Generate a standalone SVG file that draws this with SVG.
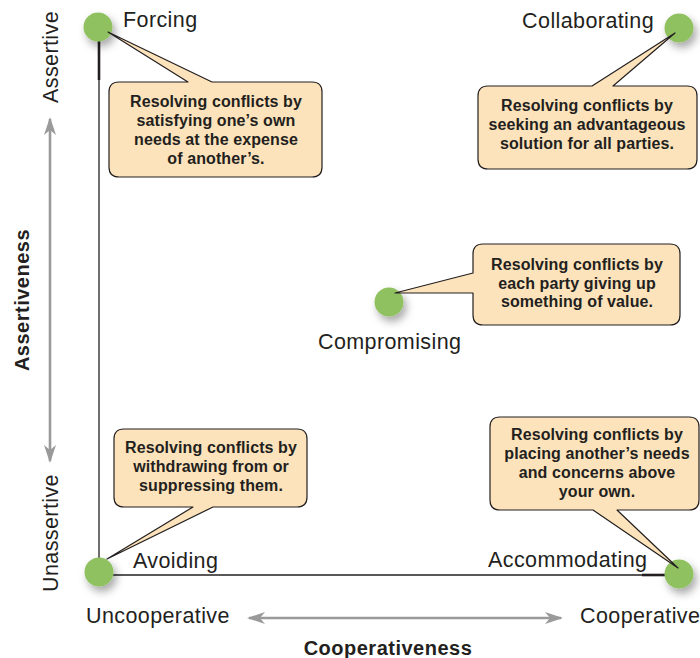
<svg xmlns="http://www.w3.org/2000/svg" width="700" height="658" viewBox="0 0 700 658">
<defs>
<style>
.lbl{font-family:"Liberation Sans",Arial,sans-serif;font-size:21.5px;letter-spacing:0.4px;fill:#231f20}
.ttl{font-family:"Liberation Sans",Arial,sans-serif;font-size:20px;font-weight:bold;letter-spacing:0.5px;fill:#231f20}
.bt{font-family:"Liberation Sans",Arial,sans-serif;font-size:16px;font-weight:bold;letter-spacing:0.1px;fill:#231f20;text-anchor:middle}
.box{fill:#fde3bb;stroke:#231f20;stroke-width:1.2;stroke-linejoin:round}
.dot{fill:#8fc160;filter:url(#sh)}
.axis{stroke:#231f20;stroke-width:1.3;fill:none}
.thick{stroke:#231f20;stroke-width:2.6;fill:none}
.garr{stroke:#9a9a9a;stroke-width:2.6;fill:none;marker-end:url(#ah);marker-start:url(#ah)}
</style>
<filter id="sh" x="-80%" y="-80%" width="260%" height="260%">
<feDropShadow dx="3" dy="5" stdDeviation="4" flood-color="#000" flood-opacity="0.35"/>
</filter>
<marker id="ah" viewBox="-1 -7 20 14" refX="16" refY="0" markerWidth="20" markerHeight="14" markerUnits="userSpaceOnUse" orient="auto-start-reverse">
<path d="M0,-6 L18,0 L0,6 L5,0 Z" fill="#9a9a9a"/>
</marker>
</defs>
<rect width="700" height="658" fill="#ffffff"/>
<g id="connectors">
<line class="axis" x1="99" y1="40" x2="99" y2="572"/>
<line class="thick" x1="99" y1="40" x2="99" y2="80"/>
<line class="axis" x1="99" y1="575" x2="666" y2="575"/>
<line class="thick" x1="642" y1="575" x2="666" y2="575"/>
<line class="garr" x1="50" y1="119" x2="50" y2="461"/>
<line class="garr" x1="249" y1="618" x2="561" y2="618"/>
</g>
<g id="axis-labels">
<text class="lbl" text-anchor="middle" transform="translate(58,57) rotate(-90)">Assertive</text>
<text class="lbl" text-anchor="middle" transform="translate(58,533) rotate(-90)">Unassertive</text>
<text class="ttl" text-anchor="middle" transform="translate(29,300) rotate(-90)">Assertiveness</text>
<text class="lbl" x="86" y="623">Uncooperative</text>
<text class="lbl" x="580" y="623">Cooperative</text>
<text class="ttl" x="388" y="655" text-anchor="middle">Cooperativeness</text>
</g>
<g id="forcing">
<circle class="dot" cx="98" cy="27" r="14.5"/>
<text class="lbl" x="123" y="27">Forcing</text>
<path class="box" d="M119,82 L188,82 L108,32 L212,82 L312,82 Q322,82 322,92 L322,167 Q322,177 312,177 L119,177 Q109,177 109,167 L109,92 Q109,82 119,82 Z"/>
<text class="bt" x="216" y="107">Resolving conflicts by</text>
<text class="bt" x="216" y="126">satisfying one’s own</text>
<text class="bt" x="216" y="145">needs at the expense</text>
<text class="bt" x="216" y="164">of another’s.</text>
</g>
<g id="collaborating">
<circle class="dot" cx="679" cy="28" r="14.5"/>
<text class="lbl" x="654" y="28" text-anchor="end">Collaborating</text>
<path class="box" d="M488,86 L592,86 L675,33 L613,86 L687,86 Q697,86 697,96 L697,159 Q697,169 687,169 L488,169 Q478,169 478,159 L478,96 Q478,86 488,86 Z"/>
<text class="bt" x="587" y="111">Resolving conflicts by</text>
<text class="bt" x="587" y="130">seeking an advantageous</text>
<text class="bt" x="587" y="149">solution for all parties.</text>
</g>
<g id="compromising">
<circle class="dot" cx="389" cy="302" r="14.5"/>
<text class="lbl" x="318" y="349">Compromising</text>
<path class="box" d="M483,244 L670,244 Q680,244 680,254 L680,315 Q680,325 670,325 L483,325 Q473,325 473,315 L473,293 L395,293 L473,273 L473,254 Q473,244 483,244 Z"/>
<text class="bt" x="577" y="270">Resolving conflicts by</text>
<text class="bt" x="577" y="289">each party giving up</text>
<text class="bt" x="577" y="307">something of value.</text>
</g>
<g id="avoiding">
<circle class="dot" cx="99" cy="572" r="14.5"/>
<text class="lbl" x="133" y="568">Avoiding</text>
<path class="box" d="M124,429 L297,429 Q307,429 307,439 L307,497 Q307,507 297,507 L213,507 L107,559 L193,507 L124,507 Q114,507 114,497 L114,439 Q114,429 124,429 Z"/>
<text class="bt" x="211" y="453">Resolving conflicts by</text>
<text class="bt" x="211" y="472">withdrawing from or</text>
<text class="bt" x="211" y="491">suppressing them.</text>
</g>
<g id="accommodating">
<circle class="dot" cx="679" cy="574" r="14.5"/>
<text class="lbl" x="488" y="567">Accommodating</text>
<path class="box" d="M500,417 L689,417 Q699,417 699,427 L699,500 Q699,510 689,510 L617,510 L678,568 L593,510 L500,510 Q490,510 490,500 L490,427 Q490,417 500,417 Z"/>
<text class="bt" x="597" y="440">Resolving conflicts by</text>
<text class="bt" x="597" y="459">placing another’s needs</text>
<text class="bt" x="597" y="478">and concerns above</text>
<text class="bt" x="597" y="497">your own.</text>
</g>
</svg>
